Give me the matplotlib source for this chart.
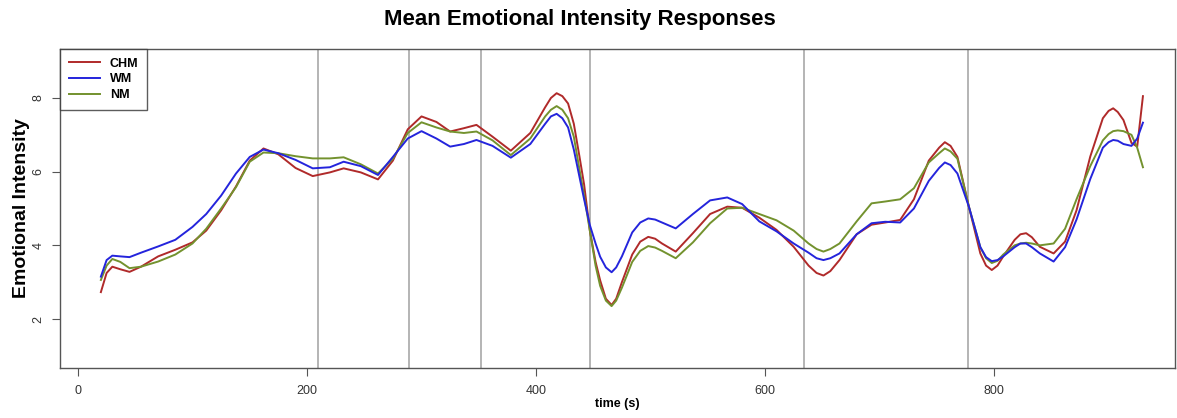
import matplotlib
matplotlib.use("Agg")
import matplotlib.pyplot as plt

plt.rcParams['font.family'] = ['Liberation Sans', 'DejaVu Sans']

# time points (s)
time_s = [20, 25, 30, 37, 45, 55, 70, 85, 100, 112, 125, 138, 150, 162, 175, 190,
          205, 220, 232, 247, 262, 275, 288, 300, 313, 325, 337, 348, 362, 378, 395,
          408, 413, 418, 423, 428, 433, 438, 442, 447, 452, 456, 461, 466, 470, 475,
          484, 491, 498, 504, 510, 522, 537, 552, 567, 580, 595, 610, 625, 638, 645,
          651, 657, 665, 680, 693, 705, 718, 730, 743, 752, 757, 762, 768, 778, 788,
          793, 798, 803, 808, 818, 823, 828, 833, 840, 852, 862, 872, 884, 895, 900,
          904, 908, 913, 920, 925, 930]

chm = [2.73, 3.25, 3.42, 3.35, 3.28, 3.42, 3.70, 3.88, 4.08, 4.40, 4.95, 5.60, 6.30, 6.63,
       6.47, 6.10, 5.88, 5.98, 6.09, 5.98, 5.79, 6.30, 7.15, 7.50, 7.35, 7.09, 7.18, 7.27,
       6.95, 6.57, 7.05, 7.75, 8.00, 8.13, 8.05, 7.85, 7.30, 6.40, 5.65, 4.40, 3.55, 3.05,
       2.55, 2.38, 2.55, 3.00, 3.75, 4.10, 4.23, 4.18, 4.05, 3.83, 4.33, 4.85, 5.05, 5.02,
       4.75, 4.42, 3.96, 3.45, 3.25, 3.18, 3.30, 3.60, 4.30, 4.56, 4.62, 4.69, 5.25, 6.30,
       6.65, 6.80, 6.70, 6.40, 5.05, 3.78, 3.45, 3.33, 3.45, 3.70, 4.15, 4.30, 4.33, 4.22,
       3.96, 3.78, 4.10, 4.95, 6.41, 7.45, 7.65, 7.72, 7.62, 7.40, 6.78, 6.68, 8.05]

wm = [3.15, 3.60, 3.72, 3.70, 3.68, 3.80, 3.97, 4.15, 4.50, 4.85, 5.35, 5.95, 6.40, 6.60,
      6.50, 6.32, 6.09, 6.12, 6.27, 6.15, 5.91, 6.40, 6.90, 7.10, 6.90, 6.68, 6.75, 6.86,
      6.70, 6.38, 6.75, 7.30, 7.50, 7.57, 7.45, 7.20, 6.60, 5.85, 5.25, 4.55, 4.05, 3.69,
      3.40, 3.27, 3.40, 3.70, 4.35, 4.62, 4.73, 4.70, 4.62, 4.46, 4.85, 5.22, 5.30, 5.12,
      4.65, 4.38, 4.05, 3.80, 3.65, 3.60, 3.65, 3.78, 4.30, 4.60, 4.64, 4.62, 5.00, 5.75,
      6.10, 6.25, 6.18, 5.95, 5.05, 3.95, 3.68, 3.57, 3.60, 3.70, 3.95, 4.05, 4.05, 3.95,
      3.78, 3.56, 3.95, 4.70, 5.80, 6.65, 6.80, 6.86, 6.84, 6.75, 6.70, 6.90, 7.33]

nm = [3.06, 3.45, 3.63, 3.55, 3.38, 3.42, 3.56, 3.75, 4.05, 4.45, 5.00, 5.58, 6.27, 6.52,
      6.50, 6.42, 6.36, 6.36, 6.39, 6.20, 5.95, 6.35, 7.05, 7.34, 7.20, 7.09, 7.05, 7.09,
      6.85, 6.45, 6.90, 7.50, 7.68, 7.78, 7.68, 7.45, 6.95, 6.05, 5.35, 4.40, 3.45, 2.90,
      2.50, 2.35, 2.50, 2.85, 3.55, 3.85, 3.98, 3.94, 3.85, 3.65, 4.08, 4.60, 5.00, 5.02,
      4.85, 4.68, 4.40, 4.05, 3.90, 3.83, 3.90, 4.05, 4.65, 5.14, 5.19, 5.25, 5.55, 6.25,
      6.50, 6.63, 6.55, 6.35, 5.05, 3.95, 3.65, 3.52, 3.58, 3.75, 4.00, 4.05, 4.07, 4.05,
      4.00, 4.05, 4.45, 5.25, 6.15, 6.85, 7.02, 7.10, 7.12, 7.10, 7.00, 6.65, 6.12]

# section boundaries (vertical lines)
boundaries = [210, 289, 352, 447, 634, 777]

x_ticks = [0, 200, 400, 600, 800]
y_ticks = [2, 4, 6, 8]

fig = plt.figure(figsize=(11.77, 4.18), dpi=100)
ax = fig.add_axes([60 / 1177, 50 / 418, 1115 / 1177, 319 / 418])

for b in boundaries:
    ax.axvline(b, color='#a8a8a8', lw=1.2, zorder=1)

ax.plot(time_s, chm, color='#b02a2a', lw=1.4, label='CHM', zorder=3)
ax.plot(time_s, wm, color='#2424dc', lw=1.4, label='WM', zorder=4)
ax.plot(time_s, nm, color='#73922e', lw=1.4, label='NM', zorder=3)

ax.set_xlim(-15.7, 958)
ax.set_ylim(0.67, 9.33)
ax.set_xticks(x_ticks)
ax.set_yticks(y_ticks)
ax.set_yticklabels([str(t) for t in y_ticks], rotation=90, va='center')
ax.tick_params(direction='out', length=6, color='#555555', labelcolor='#333333',
               labelsize=9)
ax.tick_params(axis='y', pad=5)
ax.tick_params(axis='x', pad=6)

for s in ax.spines.values():
    s.set_color('#555555')
    s.set_linewidth(1.0)

ax.set_xlabel('time (s)', fontsize=9, fontweight='bold', labelpad=1)
ax.set_ylabel('Emotional Intensity', fontsize=14, fontweight='bold', labelpad=2)

fig.text(580 / 1177, 1 - 19 / 418, 'Mean Emotional Intensity Responses',
         ha='center', va='center', fontsize=16, fontweight='bold')

leg = ax.legend(loc='upper left', frameon=True, fancybox=False,
                prop={'weight': 'bold', 'size': 9}, handlelength=2.5,
                borderaxespad=0, labelspacing=0.3, borderpad=0.7)
leg.get_frame().set_edgecolor('#333333')
leg.get_frame().set_linewidth(1.0)

fig.savefig('out.png', dpi=100)
